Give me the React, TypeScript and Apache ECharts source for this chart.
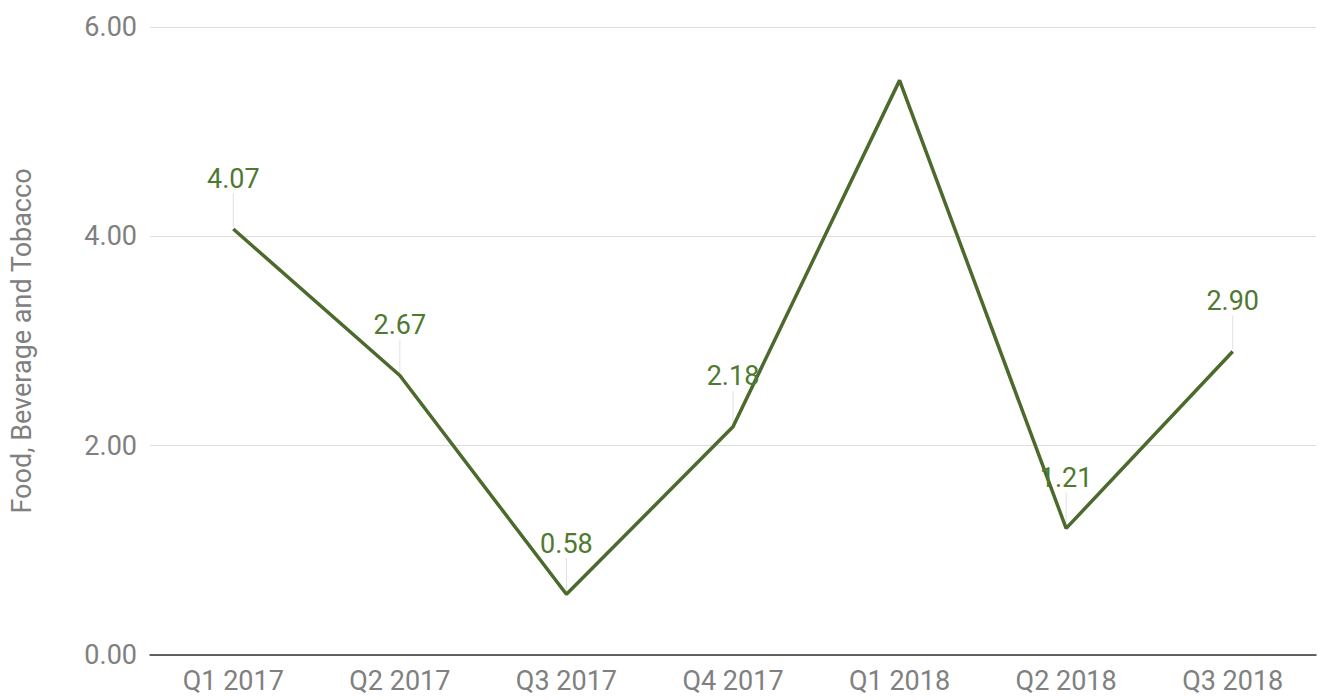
import React, { useEffect, useRef } from "react";
import * as echarts from "echarts";

const categories = ["Q1 2017", "Q2 2017", "Q3 2017", "Q4 2017", "Q1 2018", "Q2 2018", "Q3 2018"];
const values = [4.07, 2.67, 0.58, 2.18, 5.49, 1.21, 2.9];
const labelShown = [true, true, true, true, false, true, true];
const yTicks = { min: 0, max: 6, interval: 2 };
const yName = "Food, Beverage and Tobacco";

export default function App() {
  const ref = useRef<HTMLDivElement>(null);
  useEffect(() => {
    if (!ref.current) return;
    const chart = echarts.init(ref.current, undefined, { renderer: "svg" });
    const green = "#4b6a2c";
    const gray = "#808080";
    chart.setOption({
      animation: false,
      backgroundColor: "#ffffff",
      textStyle: { fontFamily: "Roboto" },
      grid: { left: 143, right: 3, top: 27, bottom: 45 },
      xAxis: {
        type: "category",
        data: categories,
        boundaryGap: true,
        axisLine: { show: true, lineStyle: { color: "#333333", width: 1.5 } },
        axisTick: { show: false },
        axisLabel: { color: gray, fontSize: 27, margin: 12, fontFamily: "Roboto" },
        splitLine: { show: false },
      },
      yAxis: {
        type: "value",
        min: yTicks.min,
        max: yTicks.max,
        interval: yTicks.interval,
        name: yName,
        nameLocation: "middle",
        nameGap: 115,
        nameTextStyle: { color: gray, fontSize: 27, fontFamily: "Roboto" },
        axisLine: { show: false },
        axisTick: { show: false },
        axisLabel: {
          color: gray,
          fontSize: 27,
          margin: 13,
          fontFamily: "Roboto",
          formatter: (v: number) => v.toFixed(2),
        },
        splitLine: { lineStyle: { color: "#dddddd", width: 1 } },
      },
      series: [
        {
          type: "custom",
          z: 1,
          silent: true,
          data: values.map((v, i) => [i, v, labelShown[i] ? 1 : 0]),
          renderItem: (params: any, api: any) => {
            if (!api.value(2)) return null;
            const p = api.coord([api.value(0), api.value(1)]);
            return {
              type: "line",
              shape: { x1: p[0], y1: p[1] - 2, x2: p[0], y2: p[1] - 36 },
              style: { stroke: "#e0e0e0", lineWidth: 1 },
            };
          },
        },
        {
          type: "line",
          z: 3,
          data: values.map((v, i) => (labelShown[i] ? v : { value: v, label: { show: false } })),
          symbol: "circle",
          symbolSize: 2,
          showSymbol: true,
          itemStyle: { color: "rgba(0,0,0,0)", borderWidth: 0 },
          lineStyle: { color: green, width: 3.5 },
          labelLayout: { hideOverlap: false },
          label: {
            show: true,
            position: "top",
            distance: 36,
            color: "#4e7a2f",
            opacity: 1,
            fontSize: 27,
            fontFamily: "Roboto",
            formatter: (p: any) => Number(p.value).toFixed(2),
          },
        },
      ],
    });
    return () => chart.dispose();
  }, []);
  return (
    <div
      ref={ref}
      style={{ position: "absolute", left: 0, top: 0, width: 1319, height: 700 }}
    />
  );
}
